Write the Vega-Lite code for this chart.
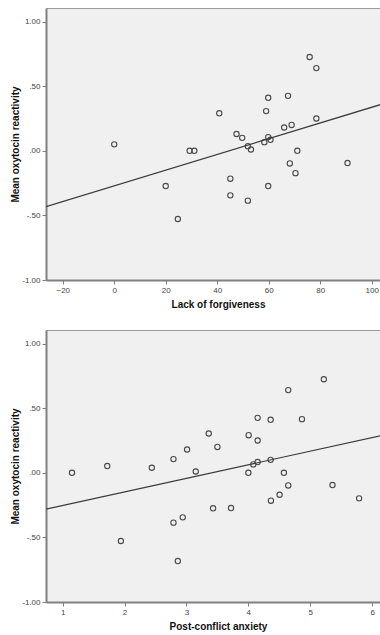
{
  "$schema": "https://vega.github.io/schema/vega-lite/v6.json",
  "padding": {"left": 9, "top": 7, "right": 0, "bottom": 0},
  "background": "white",
  "spacing": 50,
  "bounds": "flush",
  "config": {
    "view": {"fill": "#f0f0f0", "stroke": "#9a9a9a", "strokeWidth": 1},
    "axis": {
      "grid": false,
      "domainColor": "#808080",
      "domainWidth": 2,
      "tickColor": "#808080",
      "tickSize": 4,
      "tickWidth": 1,
      "labelFont": "Liberation Sans",
      "labelFontSize": 8,
      "labelColor": "#444444",
      "labelPadding": 2,
      "titleFont": "Liberation Sans",
      "titleFontSize": 10,
      "titleFontWeight": "bold",
      "titleColor": "#111111"
    }
  },
  "datasets": {
    "forgive": [
      {"x": 0, "y": 0.05}, {"x": 29.3, "y": 0.0}, {"x": 31.1, "y": 0.0},
      {"x": 40.8, "y": 0.29}, {"x": 47.5, "y": 0.13}, {"x": 49.7, "y": 0.10},
      {"x": 51.9, "y": 0.036}, {"x": 53.1, "y": 0.01}, {"x": 58.3, "y": 0.067},
      {"x": 59.0, "y": 0.307}, {"x": 59.8, "y": 0.41}, {"x": 59.8, "y": 0.106},
      {"x": 60.7, "y": 0.085}, {"x": 66.0, "y": 0.18}, {"x": 67.5, "y": 0.425},
      {"x": 68.9, "y": 0.20}, {"x": 71.1, "y": 0.0}, {"x": 75.9, "y": 0.726},
      {"x": 78.5, "y": 0.64}, {"x": 78.5, "y": 0.25}, {"x": 68.2, "y": -0.098},
      {"x": 70.4, "y": -0.173}, {"x": 90.6, "y": -0.095}, {"x": 20.0, "y": -0.273},
      {"x": 45.1, "y": -0.216}, {"x": 45.1, "y": -0.345}, {"x": 51.9, "y": -0.386},
      {"x": 59.8, "y": -0.273}, {"x": 24.7, "y": -0.528}
    ],
    "forgiveFit": [{"x": -26.5, "y": -0.433}, {"x": 104, "y": 0.361}],
    "anxiety": [
      {"x": 5.22, "y": 0.724}, {"x": 4.645, "y": 0.64}, {"x": 4.15, "y": 0.425},
      {"x": 4.36, "y": 0.41}, {"x": 4.866, "y": 0.415}, {"x": 3.36, "y": 0.304},
      {"x": 4.005, "y": 0.291}, {"x": 4.15, "y": 0.25}, {"x": 3.01, "y": 0.18},
      {"x": 3.50, "y": 0.20}, {"x": 2.79, "y": 0.106}, {"x": 1.15, "y": 0.0},
      {"x": 1.72, "y": 0.052}, {"x": 2.44, "y": 0.039}, {"x": 3.15, "y": 0.01},
      {"x": 4.0, "y": 0.0}, {"x": 4.08, "y": 0.065}, {"x": 4.15, "y": 0.083},
      {"x": 4.36, "y": 0.10}, {"x": 4.575, "y": 0.0}, {"x": 4.645, "y": -0.098},
      {"x": 5.36, "y": -0.095}, {"x": 4.505, "y": -0.17}, {"x": 4.365, "y": -0.216},
      {"x": 5.79, "y": -0.198}, {"x": 3.43, "y": -0.275}, {"x": 3.72, "y": -0.273},
      {"x": 2.79, "y": -0.386}, {"x": 2.94, "y": -0.345}, {"x": 1.94, "y": -0.528},
      {"x": 2.86, "y": -0.683}
    ],
    "anxietyFit": [{"x": 0.73, "y": -0.281}, {"x": 6.16, "y": 0.289}]
  },
  "vconcat": [
    {
      "width": 336,
      "height": 272,
      "layer": [
        {
          "data": {"name": "forgive"},
          "mark": {"type": "point", "shape": "circle", "filled": false, "stroke": "#4a4a4a", "strokeWidth": 1.1, "size": 28, "opacity": 1},
          "encoding": {
            "x": {"field": "x", "type": "quantitative", "scale": {"domain": [-26.5, 104], "nice": false, "zero": false},
                  "axis": {"values": [-20, 0, 20, 40, 60, 80, 100], "format": "d", "title": "Lack of forgiveness", "titlePadding": 5, "titleX": 172}},
            "y": {"field": "y", "type": "quantitative", "scale": {"domain": [-1, 1.105], "nice": false, "zero": false},
                  "axis": {"values": [-1, -0.5, 0, 0.5, 1], "title": "Mean oxytocin reactivity", "titlePadding": 4, "minExtent": 22, "maxExtent": 22,
                           "labelExpr": "datum.value == 0 ? '.00' : datum.value == 0.5 ? '.50' : datum.value == -0.5 ? '-.50' : datum.value == 1 ? '1.00' : '-1.00'"}}
          }
        },
        {
          "data": {"name": "forgiveFit"},
          "mark": {"type": "line", "color": "#3a3a3a", "strokeWidth": 1.2, "clip": true},
          "encoding": {
            "x": {"field": "x", "type": "quantitative"},
            "y": {"field": "y", "type": "quantitative"}
          }
        }
      ]
    },
    {
      "width": 336,
      "height": 272,
      "layer": [
        {
          "data": {"name": "anxiety"},
          "mark": {"type": "point", "shape": "circle", "filled": false, "stroke": "#4a4a4a", "strokeWidth": 1.1, "size": 28, "opacity": 1},
          "encoding": {
            "x": {"field": "x", "type": "quantitative", "scale": {"domain": [0.73, 6.16], "nice": false, "zero": false},
                  "axis": {"values": [1, 2, 3, 4, 5, 6], "format": "d", "title": "Post-conflict anxiety", "titlePadding": 5, "titleX": 172}},
            "y": {"field": "y", "type": "quantitative", "scale": {"domain": [-1, 1.105], "nice": false, "zero": false},
                  "axis": {"values": [-1, -0.5, 0, 0.5, 1], "title": "Mean oxytocin reactivity", "titlePadding": 4, "minExtent": 22, "maxExtent": 22,
                           "labelExpr": "datum.value == 0 ? '.00' : datum.value == 0.5 ? '.50' : datum.value == -0.5 ? '-.50' : datum.value == 1 ? '1.00' : '-1.00'"}}
          }
        },
        {
          "data": {"name": "anxietyFit"},
          "mark": {"type": "line", "color": "#3a3a3a", "strokeWidth": 1.2, "clip": true},
          "encoding": {
            "x": {"field": "x", "type": "quantitative"},
            "y": {"field": "y", "type": "quantitative"}
          }
        }
      ]
    }
  ]
}
